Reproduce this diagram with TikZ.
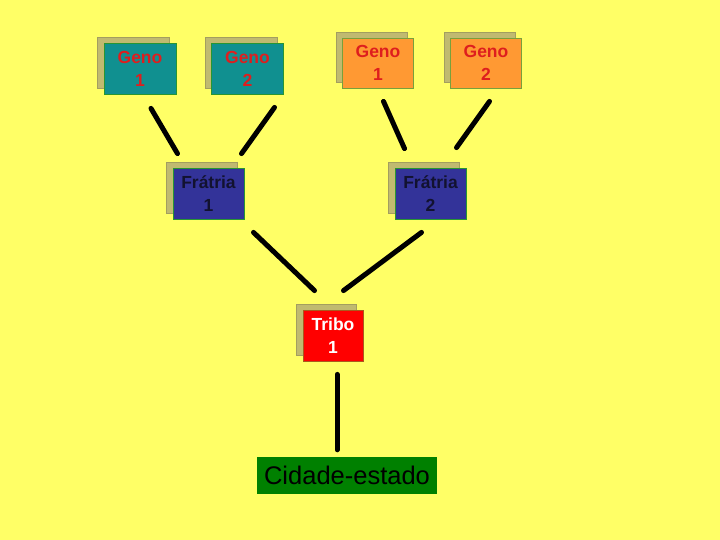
\documentclass[tikz,border=0pt]{standalone}
\usepackage{fontspec}
\setmainfont{Liberation Sans}
\usepackage{xcolor}
\usepackage{tikz}
\usetikzlibrary{shadows}

\definecolor{bgyellow}{RGB}{255,255,102}
\definecolor{shade}{RGB}{192,186,112}
\definecolor{tealfill}{RGB}{16,144,144}
\definecolor{orangefill}{RGB}{255,153,51}
\definecolor{bluefill}{RGB}{51,51,153}
\definecolor{greenline}{RGB}{40,150,50}
\definecolor{oliveline}{RGB}{120,160,60}
\definecolor{genored}{RGB}{222,30,30}
\definecolor{darknavy}{RGB}{18,18,48}
\definecolor{brownline}{RGB}{170,90,30}
\definecolor{cityfill}{RGB}{0,128,0}

\begin{document}
\begin{tikzpicture}[
  x=1pt, y=-1pt,
  card/.style={rectangle, thick, text centered, align=center, inner sep=0pt,
    font=\fontsize{17.5}{23}\selectfont\bfseries,
    copy shadow={shadow xshift=-6.5pt, shadow yshift=6pt, fill=shade, draw=shade!85!black}},
  geno/.style={card, fill=tealfill, draw=greenline, text=genored, minimum width=72pt, minimum height=51pt},
  genob/.style={card, fill=orangefill, draw=oliveline, text=genored, minimum width=71pt, minimum height=50pt},
  fratria/.style={card, fill=bluefill, draw=greenline, text=darknavy, minimum width=71pt, minimum height=51pt},
  tribo/.style={card, fill=red, draw=brownline, text=white, minimum width=60pt, minimum height=51pt},
  city/.style={rectangle, fill=cityfill, minimum width=180pt, minimum height=37pt, inner sep=0pt, font=\fontsize{25.5}{26}\selectfont},
  link/.style={line width=5pt, black, line cap=round}
]
\useasboundingbox[fill=bgyellow] (0,0) rectangle (720,540);

% Genos
\node (tg1) [geno] at (140,68.5) {Geno\\1};
\node (tg2) [geno] at (247.5,68.5) {Geno\\2};
\node (og1) [genob] at (378,63) {Geno\\1};
\node (og2) [genob] at (486,63) {Geno\\2};

% Fratrias
\node (f1) [fratria] at (208.5,193.5) {Frátria\\1};
\node (f2) [fratria] at (430.5,193.5) {Frátria\\2};

% Tribo and city
\node (t1) [tribo] at (333,335.5) {Tribo\\1};
\node (cidade) [city] at (347,475.5) {Cidade-estado};

% Links
\draw [link] ([shift={(11,14)}]tg1.south) -- ([shift={(-31,-14)}]f1.north);
\draw [link] ([shift={(27,13)}]tg2.south) -- ([shift={(33,-14)}]f1.north);
\draw [link] ([shift={(5.5,13)}]og1.south) -- ([shift={(-26,-19)}]f2.north);
\draw [link] ([shift={(3.5,13)}]og2.south) -- ([shift={(26,-20)}]f2.north);
\draw [link] ([shift={(45,13)}]f1.south) -- ([shift={(-18.5,-19)}]t1.north);
\draw [link] ([shift={(-9,13)}]f2.south) -- ([shift={(10.5,-19)}]t1.north);
\draw [link] ([shift={(4,13)}]t1.south) -- ([shift={(-10,-7)}]cidade.north);
\end{tikzpicture}
\end{document}
